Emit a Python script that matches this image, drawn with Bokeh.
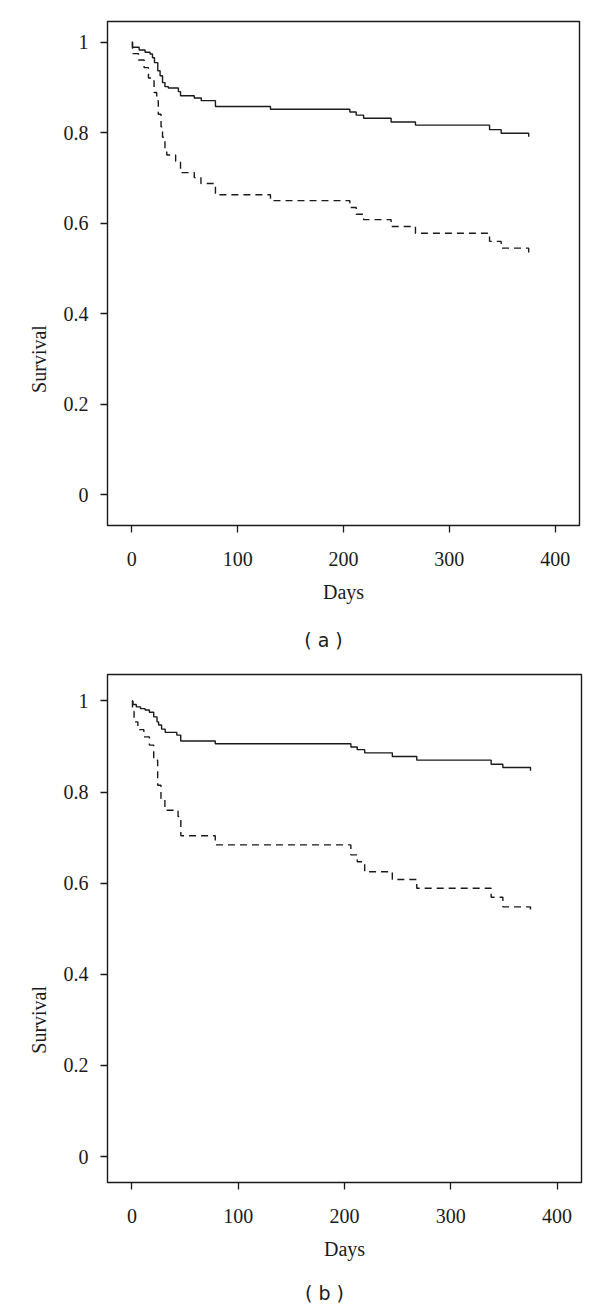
import math
from bokeh.plotting import figure
from bokeh.layouts import column, row
from bokeh.models import FixedTicker, Range1d
from bokeh.embed import file_html
from bokeh.resources import INLINE

# ---- data ----
y_ticks = [0, 0.2, 0.4, 0.6, 0.8, 1.0]
y_tick_labels = ["0", "0.2", "0.4", "0.6", "0.8", "1"]
x_ticks = [0, 100, 200, 300, 400]
y_title = "Survival"
x_title = "Days"
y_title_at = 0.30   # the y title sits near survival 0.3 in the reference

# Panel (a)
a_solid_days = [0, 0.6, 6.9, 12.5, 17.2, 19.5, 21.4, 24.5, 26.7, 29, 31.3, 34.5, 44, 46, 59, 65.6, 79, 131,
                206, 212, 219, 245, 268, 338, 349, 375]
a_solid_surv = [1.0, 0.989, 0.983, 0.978, 0.974, 0.966, 0.955, 0.937, 0.926, 0.911, 0.902, 0.899, 0.891, 0.882,
                0.877, 0.871, 0.858, 0.852, 0.846, 0.839, 0.832, 0.824, 0.817, 0.807, 0.799, 0.791]
a_dash_days = [0, 0.6, 6.3, 11.6, 15.7, 19.5, 21, 23.5, 25, 27.6, 29, 31.3, 33, 41.4, 46, 59, 65.3, 79, 131,
               206, 212, 219, 245, 268, 338, 349, 375]
a_dash_surv = [1.0, 0.975, 0.961, 0.944, 0.921, 0.915, 0.889, 0.871, 0.841, 0.813, 0.790, 0.764, 0.751, 0.737,
               0.712, 0.701, 0.688, 0.663, 0.650, 0.635, 0.620, 0.608, 0.593, 0.578, 0.560, 0.545, 0.534]

# Panel (b)
b_solid_days = [0, 0.9, 4.1, 8.1, 12.4, 16.4, 20.5, 23.6, 25.1, 27.9, 31.3, 42.2, 45.9, 78.4,
                206, 212, 219, 245, 268, 338, 349, 375]
b_solid_surv = [1.0, 0.992, 0.987, 0.983, 0.980, 0.975, 0.965, 0.954, 0.947, 0.938, 0.931, 0.925, 0.912, 0.906,
                0.899, 0.893, 0.886, 0.878, 0.870, 0.861, 0.854, 0.847]
b_dash_days = [0, 0.5, 2, 5.6, 11.2, 16.4, 20.5, 24.2, 27.3, 31, 43.4, 46, 78.4,
               206, 212, 219, 245, 268, 338, 349, 375]
b_dash_surv = [1.0, 0.977, 0.954, 0.937, 0.921, 0.903, 0.870, 0.815, 0.786, 0.760, 0.746, 0.704, 0.684,
               0.662, 0.647, 0.625, 0.608, 0.589, 0.569, 0.548, 0.537]

SERIF = "Liberation Serif"
INK = "#1a1a1a"
PAGE_W = 592
LAB_W = 60      # width of the strip holding the y title
MB_BOTTOM = 90  # room for the x axis below each frame


def blank(width, height, xr, yr, mb_top=0, mb_bottom=0):
    f = figure(width=width, height=height, output_backend="svg", toolbar_location=None,
               x_range=xr, y_range=yr, x_axis_type=None, y_axis_type=None,
               min_border_left=0, min_border_right=0, min_border_top=mb_top, min_border_bottom=mb_bottom)
    f.outline_line_color = None
    f.xgrid.visible = False
    f.ygrid.visible = False
    return f


def make_panel(solid_d, solid_s, dash_d, dash_s, height, frame_left, mb_right, mb_top, y_lo, y_hi):
    yr = Range1d(y_lo, y_hi)

    lab = blank(LAB_W, height, Range1d(0, LAB_W), yr, mb_top, MB_BOTTOM)
    lab.text(x=[38], y=[y_title_at], text=[y_title], angle=math.pi / 2, text_align="center",
             text_baseline="middle", text_font={"value": SERIF}, text_font_size="20px", text_color=INK)

    p = figure(width=PAGE_W - LAB_W, height=height, output_backend="svg", toolbar_location=None,
               x_range=Range1d(-23, 423), y_range=yr,
               min_border_left=frame_left - LAB_W, min_border_right=mb_right,
               min_border_top=mb_top, min_border_bottom=MB_BOTTOM)
    p.background_fill_color = "white"
    p.border_fill_color = "white"
    p.outline_line_color = INK
    p.outline_line_width = 1.4
    p.xgrid.visible = False
    p.ygrid.visible = False

    p.step(solid_d, solid_s, mode="after", line_color=INK, line_width=1.4)
    p.step(dash_d, dash_s, mode="after", line_color=INK, line_width=1.4, line_dash="7 5")

    for ax in (p.xaxis[0], p.yaxis[0]):
        ax.axis_line_color = None
        ax.major_tick_line_color = INK
        ax.major_tick_line_width = 1.3
        ax.major_tick_out = 7
        ax.major_tick_in = 0
        ax.minor_tick_line_color = None
        ax.major_label_text_font = SERIF
        ax.major_label_text_font_size = "20px"
        ax.major_label_text_color = INK
        ax.axis_label_text_font = SERIF
        ax.axis_label_text_font_size = "20px"
        ax.axis_label_text_font_style = "normal"
        ax.axis_label_text_color = INK

    p.xaxis.ticker = FixedTicker(ticks=x_ticks)
    p.yaxis.ticker = FixedTicker(ticks=y_ticks)
    p.yaxis.major_label_overrides = {t: l for t, l in zip(y_ticks, y_tick_labels)}
    p.xaxis.axis_label = x_title
    p.xaxis.major_label_standoff = 19
    p.xaxis.axis_label_standoff = 12
    p.yaxis.major_label_standoff = 12
    return row(lab, p, spacing=0)


def caption_strip(text, height, cx, cy):
    c = blank(PAGE_W, height, Range1d(0, PAGE_W), Range1d(0, height))
    c.text(x=[cx], y=[cy], text=[text], text_align="center", text_baseline="middle",
           text_font={"value": "DejaVu Sans"}, text_font_size="19px", text_color=INK)
    return c


# panel (a): frame 21..525 px, caption centred at ~639 px
pa = make_panel(a_solid_days, a_solid_surv, a_dash_days, a_dash_surv, 21 + 504 + MB_BOTTOM,
                106, 13, 21, -0.068, 1.046)
ca = caption_strip("( a )", 48, 323, 24)
# panel (b): frame 674..1182 px, caption centred at ~1292 px
pb = make_panel(b_solid_days, b_solid_surv, b_dash_days, b_dash_surv, 11 + 508 + MB_BOTTOM,
                103, 11, 11, -0.057, 1.058)
cb = caption_strip("( b )", 34, 324, 14)

layout = column(pa, ca, pb, cb, spacing=0)
open("out.html", "w").write(file_html(layout, INLINE))
